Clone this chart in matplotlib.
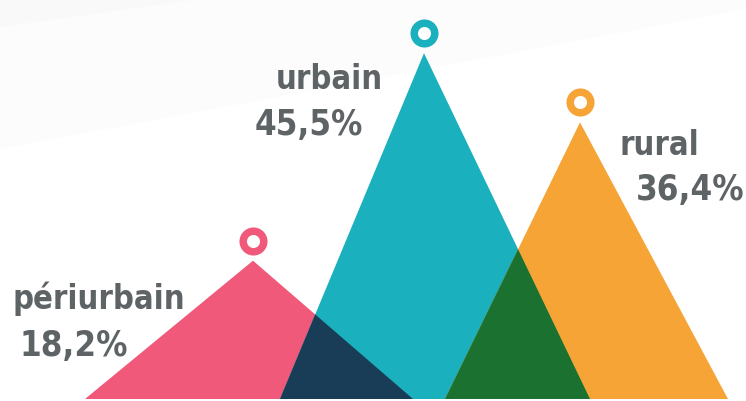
import matplotlib
matplotlib.use('Agg')
import matplotlib.pyplot as plt
from matplotlib.patches import Polygon

categories = ['périurbain', 'urbain', 'rural']
values = [18.2, 45.5, 36.4]
value_labels = ['18,2%', '45,5%', '36,4%']
colors = ['#F0597A', '#1BB0BD', '#F7A436']

# layout (pixels): apex x, base left, base right
apex_x = [253, 424, 580]
base_l = [85, 280, 445]
base_r = [413, 590, 728]
overlap_colors = {(0, 1): '#1A3D57', (1, 2): '#1B7230'}

W, H = 746, 402
K = 7.6          # pixels per percentage point
BASE = 400       # baseline pixel row
TEXT = '#5E6366'

fig = plt.figure(figsize=(W / 100, H / 100), dpi=100)
fig.patch.set_facecolor('#FCFCFC')
ax = fig.add_axes([0, 0, 1, 1])
ax.set_xlim(0, W)
ax.set_ylim(-(H - BASE) / K, BASE / K)
ax.axis('off')

# faint background bands
bg = fig.add_axes([0, 0, 1, 1], zorder=-1)
bg.set_xlim(0, W)
bg.set_ylim(H, 0)
bg.axis('off')
bg.add_patch(Polygon([(0, 0), (200, 0), (0, 28)], color='#F9F9F9', lw=0))
bg.add_patch(Polygon([(0, 150), (746, 10), (746, 402), (0, 402)],
                     color='#FFFFFF', lw=0))

tris = []
for i, v in enumerate(values):
    tri = Polygon([(base_l[i], 0), (apex_x[i], v), (base_r[i], 0)],
                  closed=True, color=colors[i], lw=0, zorder=2)
    ax.add_patch(tri)
    tris.append(tri)

# overlaps: redraw the right triangle clipped to the left one
for (a, b), c in overlap_colors.items():
    ov = Polygon([(base_l[b], 0), (apex_x[b], values[b]), (base_r[b], 0)],
                 closed=True, color=c, lw=0, zorder=3)
    ax.add_patch(ov)
    ov.set_clip_path(tris[a])

# ring markers above peaks
for i, v in enumerate(values):
    ax.plot(apex_x[i], v + 20 / K, 'o', ms=14.8, mfc='white',
            mec=colors[i], mew=5.4, zorder=4)

font = dict(family='DejaVu Sans', stretch='condensed', weight='bold',
            color=TEXT)

def px(x, y):
    return x / W, 1 - y / H

# label positions in pixels (right edge / baseline)
fig.text(*px(185, 309), categories[0], ha='right', va='baseline', fontsize=23.5, **font)
fig.text(*px(128, 356), value_labels[0], ha='right', va='baseline', fontsize=25, **font)
fig.text(*px(383, 89), categories[1], ha='right', va='baseline', fontsize=23.5, **font)
fig.text(*px(363, 135), value_labels[1], ha='right', va='baseline', fontsize=25, **font)
fig.text(*px(699, 155), categories[2], ha='right', va='baseline', fontsize=23.5, **font)
fig.text(*px(745, 200), value_labels[2], ha='right', va='baseline', fontsize=25, **font)

fig.savefig('out.png', dpi=100, facecolor=fig.get_facecolor())
